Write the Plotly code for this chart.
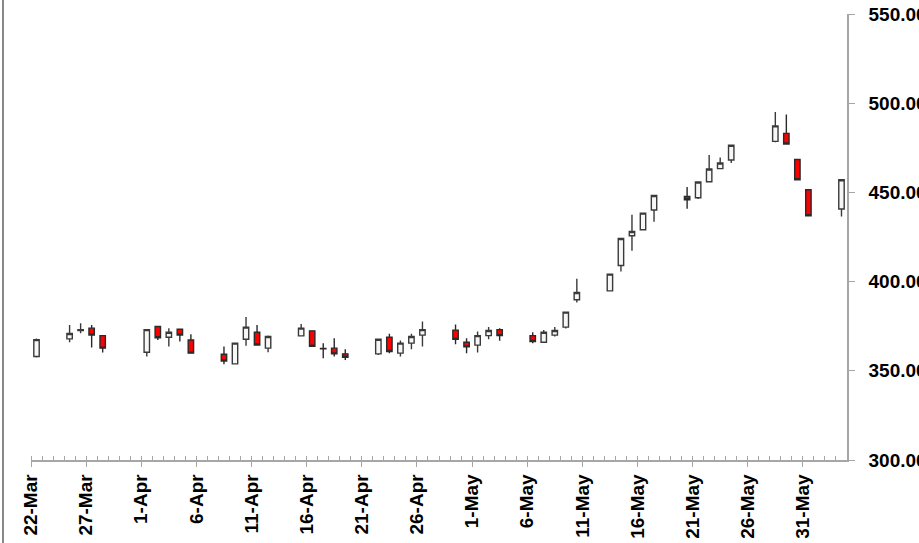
#candlestick chart of daily prices, 22-Mar to 3-Jun
## price axis on the right, day ticks with a label every 5 days

#import libraries
import plotly.graph_objects as go
import pandas as pd

#trading days
dates = ["2013-03-22", "2013-03-25", "2013-03-26", "2013-03-27", "2013-03-28",
         "2013-04-01", "2013-04-02", "2013-04-03", "2013-04-04", "2013-04-05",
         "2013-04-08", "2013-04-09", "2013-04-10", "2013-04-11", "2013-04-12",
         "2013-04-15", "2013-04-16", "2013-04-17", "2013-04-18", "2013-04-19",
         "2013-04-22", "2013-04-23", "2013-04-24", "2013-04-25", "2013-04-26",
         "2013-04-29", "2013-04-30", "2013-05-01", "2013-05-02", "2013-05-03",
         "2013-05-06", "2013-05-07", "2013-05-08", "2013-05-09", "2013-05-10",
         "2013-05-13", "2013-05-14", "2013-05-15", "2013-05-16", "2013-05-17",
         "2013-05-20", "2013-05-21", "2013-05-22", "2013-05-23", "2013-05-24",
         "2013-05-28", "2013-05-29", "2013-05-30", "2013-05-31", "2013-06-03"]

open_prices = [358.0, 367.9, 372.6, 373.9, 369.7,
               360.4, 374.8, 368.8, 373.3, 367.3,
               359.3, 353.9, 367.7, 371.6, 362.7,
               369.6, 372.4, 362.5, 362.7, 359.5,
               359.5, 368.9, 359.9, 365.5, 370.0,
               372.8, 366.0, 364.4, 369.7, 373.1,
               369.7, 366.0, 370.0, 374.5, 389.8,
               394.8, 409.0, 425.7, 429.1, 440.1,
               447.7, 447.0, 456.0, 463.3, 468.2,
               478.6, 483.1, 468.4, 451.5, 440.7]

high_prices = [368.1, 375.7, 376.7, 375.7, 370.0,
               373.3, 375.0, 373.9, 373.5, 370.5,
               363.6, 365.7, 380.1, 375.7, 369.8,
               376.3, 372.6, 365.5, 368.3, 362.1,
               368.0, 370.7, 367.0, 370.7, 377.6,
               375.9, 368.3, 372.0, 374.5, 373.9,
               371.6, 372.9, 374.5, 383.1, 401.6,
               404.4, 424.4, 437.5, 438.6, 448.5,
               453.0, 456.0, 471.0, 469.6, 476.6,
               495.1, 493.6, 468.6, 451.7, 457.3]

low_prices = [357.4, 366.0, 371.1, 363.0, 360.2,
              358.0, 367.2, 363.6, 366.4, 359.6,
              353.7, 353.7, 364.1, 364.0, 360.4,
              369.3, 363.6, 357.1, 358.0, 356.1,
              358.9, 359.9, 358.0, 362.1, 363.6,
              364.9, 359.9, 360.2, 367.7, 366.9,
              365.5, 365.7, 369.2, 373.7, 388.3,
              394.6, 405.7, 417.3, 428.9, 433.6,
              440.8, 446.3, 455.8, 463.0, 466.5,
              478.1, 476.9, 456.9, 436.7, 436.5]

close_prices = [367.5, 370.9, 373.0, 370.0, 362.7,
                373.1, 368.5, 371.6, 370.0, 359.9,
                355.5, 365.5, 374.5, 364.5, 369.2,
                373.9, 363.8, 362.3, 359.5, 357.6,
                367.7, 360.8, 365.5, 369.2, 373.1,
                367.7, 363.4, 369.7, 372.6, 369.7,
                366.4, 371.6, 372.6, 382.9, 393.9,
                404.2, 424.2, 428.1, 438.4, 448.3,
                445.9, 455.8, 463.1, 466.5, 476.4,
                487.3, 477.1, 457.1, 436.9, 457.1]

#candles sit in the middle of each day slot
x_mid = pd.to_datetime(dates) + pd.Timedelta(hours=12)

fig = go.Figure(data=go.Candlestick(
    x=x_mid,
    open=open_prices,
    high=high_prices,
    low=low_prices,
    close=close_prices,
    increasing=dict(fillcolor="#f7f7f7", line=dict(color="#3a3a3a", width=1.4)),
    decreasing=dict(fillcolor="#ff0000", line=dict(color="#2a2a2a", width=1.4)),
    whiskerwidth=0,
    showlegend=False
))

axis_gray = "#a6a6a6"
tick_font = dict(family="Liberation Sans, Arial", size=19, color="#000000", weight="bold")

#update layout for axes customization
fig.update_layout(
    width=919,
    height=543,
    margin=dict(l=31, r=72, t=14, b=83),
    paper_bgcolor="white",
    plot_bgcolor="white",
    boxgap=0.3,
    xaxis=dict(
        type="date",
        range=["2013-03-22", "2013-06-04"],
        rangeslider=dict(visible=False),
        automargin=False,
        showgrid=False,
        zeroline=False,
        showline=True,
        linecolor=axis_gray,
        linewidth=1.5,
        ticks="outside",
        ticklen=5,
        tickcolor=axis_gray,
        tick0="2013-03-22",
        dtick=5 * 86400000,
        tickformat="%-d-%b",
        tickangle=-90,
        tickfont=tick_font,
        minor=dict(dtick=86400000, ticks="inside", ticklen=4, tickcolor=axis_gray, showgrid=False),
    ),
    yaxis=dict(
        side="right",
        range=[300, 550],
        automargin=False,
        showgrid=False,
        zeroline=False,
        showline=True,
        linecolor=axis_gray,
        linewidth=1.5,
        ticks="outside",
        ticklen=6,
        tickcolor=axis_gray,
        dtick=50,
        tickformat=".2f",
        tickfont=tick_font,
        ticklabelstandoff=10,
    ),
)

#chart border on the left edge
fig.add_shape(type="line", xref="paper", yref="paper",
              x0=-28 / 816, x1=-28 / 816, y0=-0.3, y1=1.1,
              line=dict(color="#606060", width=1.5))

#drop the page's default body margin so the chart sits at the window corner
fig.write_html("out.html", config={"displayModeBar": False},
               post_script="document.body.style.margin='0px';")
